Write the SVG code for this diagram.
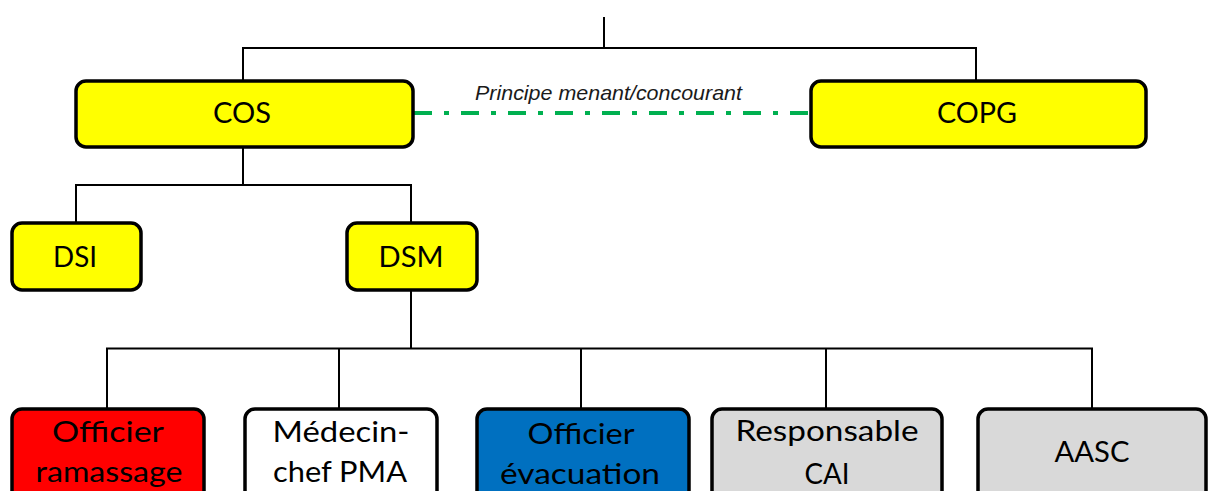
<svg xmlns="http://www.w3.org/2000/svg" width="1208" height="491" viewBox="0 0 1208 491">
<style>
.box{stroke:#000;stroke-width:3.5}
.y{fill:#FFFF00}
.t{font-family:Lato,"Liberation Sans",sans-serif;font-size:29px;fill:#000;text-anchor:middle}
.c{stroke:#000;stroke-width:2;fill:none}
</style>
<rect width="1208" height="491" fill="#fff"/>
<g id="connectors">
<path class="c" d="M604 17V48M243 81V48H976V81"/>
<path class="c" d="M243 147V185M76 223V185H411V223"/>
<path class="c" d="M411 290V348.5M107 409V348.5H1092V409M339 348.5V409M581 348.5V409M826 348.5V409"/>
<line x1="414" y1="113" x2="810" y2="113" stroke="#00B050" stroke-width="4" stroke-dasharray="18 12 5 12"/>
<text x="475" y="100" font-family="'Liberation Sans',Arial,sans-serif" font-style="italic" font-size="21" fill="#1a1a1a" textLength="267" lengthAdjust="spacingAndGlyphs">Principe menant/concourant</text>
</g>
<g id="cos"><rect class="box y" x="76" y="81" width="337" height="66" rx="10"/><text class="t" x="242" y="123" textLength="58" lengthAdjust="spacingAndGlyphs">COS</text></g>
<g id="copg"><rect class="box y" x="811" y="81" width="335" height="66" rx="10"/><text class="t" x="977" y="123" textLength="80" lengthAdjust="spacingAndGlyphs">COPG</text></g>
<g id="dsi"><rect class="box y" x="12" y="223" width="129" height="67" rx="10"/><text class="t" x="75" y="267" textLength="44" lengthAdjust="spacingAndGlyphs">DSI</text></g>
<g id="dsm"><rect class="box y" x="347" y="223" width="130" height="67" rx="10"/><text class="t" x="411" y="267" textLength="65" lengthAdjust="spacingAndGlyphs">DSM</text></g>
<g id="officier-ramassage"><rect class="box" fill="#FF0000" x="12" y="409" width="192" height="100" rx="10"/><text class="t" x="108" y="442" textLength="112" lengthAdjust="spacingAndGlyphs">Officier</text><text class="t" x="109" y="482" textLength="147" lengthAdjust="spacingAndGlyphs">ramassage</text></g>
<g id="medecin-chef"><rect class="box" fill="#fff" x="245" y="409" width="192" height="100" rx="10"/><text class="t" x="341" y="442" textLength="137" lengthAdjust="spacingAndGlyphs">Médecin-</text><text class="t" x="340" y="482" textLength="134" lengthAdjust="spacingAndGlyphs">chef PMA</text></g>
<g id="officier-evacuation"><rect class="box" fill="#0070C0" x="477" y="409" width="212" height="100" rx="10"/><text class="t" x="581" y="444" textLength="107" lengthAdjust="spacingAndGlyphs">Officier</text><text class="t" x="580" y="484" textLength="160" lengthAdjust="spacingAndGlyphs">évacuation</text></g>
<g id="responsable-cai"><rect class="box" fill="#D9D9D9" x="712" y="409" width="230" height="100" rx="10"/><text class="t" x="827" y="441" textLength="183" lengthAdjust="spacingAndGlyphs">Responsable</text><text class="t" x="827" y="484" textLength="45" lengthAdjust="spacingAndGlyphs">CAI</text></g>
<g id="aasc"><rect class="box" fill="#D9D9D9" x="978" y="409" width="228" height="100" rx="10"/><text class="t" x="1092" y="462" textLength="75" lengthAdjust="spacingAndGlyphs">AASC</text></g>
</svg>
